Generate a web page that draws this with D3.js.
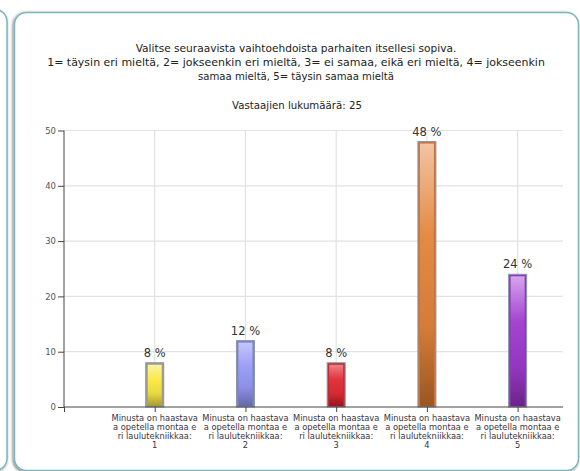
<!DOCTYPE html>
<html>
<head>
<meta charset="utf-8">
<script src="https://cdn.jsdelivr.net/npm/d3@7"></script>
<style>
  html, body { margin: 0; padding: 0; background: #ffffff; }
  svg { display: block; }
  text { font-family: "DejaVu Sans", Verdana, sans-serif; }
</style>
</head>
<body>
<script>
// ---------- data ----------
const titleLines = [
  "Valitse seuraavista vaihtoehdoista parhaiten itsellesi sopiva.",
  "1= täysin eri mieltä, 2= jokseenkin eri mieltä, 3= ei samaa, eikä eri mieltä, 4= jokseenkin",
  "samaa mieltä, 5= täysin samaa mieltä"
];
const subtitle = "Vastaajien lukumäärä: 25";
const categories = [
  "Minusta on haastavaa opetella montaa eri laulutekniikkaa: 1",
  "Minusta on haastavaa opetella montaa eri laulutekniikkaa: 2",
  "Minusta on haastavaa opetella montaa eri laulutekniikkaa: 3",
  "Minusta on haastavaa opetella montaa eri laulutekniikkaa: 4",
  "Minusta on haastavaa opetella montaa eri laulutekniikkaa: 5"
];
const values = [8, 12, 8, 48, 24];
const yTicks = [0, 10, 20, 30, 40, 50];
const barColors = [
  { top: "#f8f2a8", mid: "#fbea48", low: "#e8d840", bot: "#a89a32", stroke: "#9c9c8c" },
  { top: "#c4c6fb", mid: "#9ea2f6", low: "#8c90e6", bot: "#6668a8", stroke: "#7c84c4" },
  { top: "#ec8088", mid: "#e2343c", low: "#d42a32", bot: "#98161e", stroke: "#c02a34" },
  { top: "#f2c4a4", mid: "#e38a44", low: "#d47c38", bot: "#9a5622", stroke: "#c8743c" },
  { top: "#d6a4ec", mid: "#a444d0", low: "#9438c0", bot: "#6c2488", stroke: "#8a3cb8" }
];

// ---------- layout ----------
const W = 580, H = 471;
const svg = d3.select("body").append("svg").attr("width", W).attr("height", H);
const defs = svg.append("defs");

const shadow = defs.append("filter").attr("id", "shadow")
  .attr("x", "-10%").attr("y", "-10%").attr("width", "120%").attr("height", "120%");
shadow.append("feGaussianBlur").attr("in", "SourceAlpha").attr("stdDeviation", 1.6).attr("result", "b");
shadow.append("feOffset").attr("in", "b").attr("dx", -1).attr("dy", 1).attr("result", "o");
shadow.append("feComponentTransfer").attr("in", "o").attr("result", "s")
  .append("feFuncA").attr("type", "linear").attr("slope", 0.55);
const merge = shadow.append("feMerge");
merge.append("feMergeNode").attr("in", "s");
merge.append("feMergeNode").attr("in", "SourceGraphic");

// left partial panel
svg.append("rect")
  .attr("x", -560).attr("y", 9.5).attr("width", 567).attr("height", 461).attr("rx", 12)
  .attr("fill", "#ffffff").attr("stroke", "#7ab7bc").attr("stroke-width", 1.5)
  .attr("filter", "url(#shadow)");
// main panel
svg.append("rect")
  .attr("x", 14.5).attr("y", 12.5).attr("width", 564).attr("height", 458).attr("rx", 12)
  .attr("fill", "#ffffff").attr("stroke", "#7ab7bc").attr("stroke-width", 1.5)
  .attr("filter", "url(#shadow)");

// fit text helper
function fitText(sel, targetWidth, baseSize) {
  sel.attr("font-size", baseSize);
  const w = sel.node().getComputedTextLength();
  if (w > 0) sel.attr("font-size", baseSize * targetWidth / w);
  return sel;
}

// ---------- title ----------
const titleCx = 296;
const titleY = [52, 66, 80];
const titleW = [321, 498, 196];
titleLines.forEach((t, i) => {
  const s = svg.append("text").attr("x", titleCx).attr("y", titleY[i])
    .attr("text-anchor", "middle").attr("fill", "#222").text(t);
  fitText(s, titleW[i], 12);
});
fitText(svg.append("text").attr("x", 297).attr("y", 109)
  .attr("text-anchor", "middle").attr("fill", "#222").text(subtitle), 130, 12);

// ---------- scales ----------
const x0 = 64, x1 = 563, y0 = 407, y1 = 130.5;
const x = d3.scaleLinear().domain([0, categories.length + 0.5]).range([x0, x1]);
const y = d3.scaleLinear().domain([0, 50]).range([y0, y1]);
const barW = 18;

const g = svg.append("g");

// grid
g.selectAll("line.hgrid").data(yTicks.filter(d => d > 0)).join("line")
  .attr("x1", x0).attr("x2", x1).attr("y1", d => y(d)).attr("y2", d => y(d))
  .attr("stroke", "#e2e2e2").attr("stroke-width", 1.2);
g.selectAll("line.vgrid").data(categories).join("line")
  .attr("x1", (d, i) => x(i + 1)).attr("x2", (d, i) => x(i + 1))
  .attr("y1", y1).attr("y2", y0)
  .attr("stroke", "#e2e2e2").attr("stroke-width", 1.2);

// gradients
barColors.forEach((c, i) => {
  const lg = defs.append("linearGradient").attr("id", "bg" + i)
    .attr("x1", 0).attr("y1", 0).attr("x2", 0).attr("y2", 1);
  lg.append("stop").attr("offset", "0%").attr("stop-color", c.top);
  lg.append("stop").attr("offset", "35%").attr("stop-color", c.mid);
  lg.append("stop").attr("offset", "70%").attr("stop-color", c.low);
  lg.append("stop").attr("offset", "100%").attr("stop-color", c.bot);
});

// bars
const bars = g.selectAll("g.bar").data(values).join("g");
bars.append("rect")
  .attr("x", (d, i) => x(i + 1) - barW / 2)
  .attr("y", d => y(d))
  .attr("width", barW)
  .attr("height", d => y0 - y(d))
  .attr("fill", (d, i) => barColors[i].stroke)
  .attr("stroke", "#8a96aa").attr("stroke-width", 1);
bars.append("rect")
  .attr("x", (d, i) => x(i + 1) - barW / 2 + 2)
  .attr("y", d => y(d) + 2)
  .attr("width", barW - 4)
  .attr("height", d => Math.max(0, y0 - y(d) - 3))
  .attr("fill", (d, i) => `url(#bg${i})`);

// value labels
g.selectAll("text.val").data(values).join("text")
  .attr("x", (d, i) => x(i + 1))
  .attr("y", d => y(d) - 6)
  .attr("text-anchor", "middle")
  .attr("font-size", 11.5)
  .attr("fill", "#333")
  .text(d => d + " %");

// y axis
const yAxis = d3.axisLeft(y).tickValues(yTicks).tickSize(6).tickPadding(2);
const ya = svg.append("g").attr("transform", `translate(${x0},0)`).call(yAxis);
ya.select(".domain").attr("stroke", "#444").attr("d", `M0,${y0}V${y1}`);
ya.selectAll(".tick line").attr("stroke", "#444");
ya.selectAll(".tick text").attr("font-size", 8.5).attr("fill", "#555")
  .attr("font-family", "DejaVu Sans, Verdana, sans-serif");

// x axis
const xTickVals = d3.range(0, categories.length + 1);
const xAxis = d3.axisBottom(x).tickValues(xTickVals).tickSize(5).tickFormat("");
const xa = svg.append("g").attr("transform", `translate(0,${y0})`).call(xAxis);
xa.select(".domain").attr("stroke", "#444").attr("d", `M${x0},0H${x1}`);
xa.selectAll(".tick line").attr("stroke", "#444");

// category labels (wrapped every 19 characters)
function chunk(s, n) {
  const out = [];
  for (let i = 0; i < s.length; i += n) out.push(s.slice(i, i + n).trim());
  return out;
}
categories.forEach((c, i) => {
  const t = svg.append("text")
    .attr("x", x(i + 1)).attr("y", 421)
    .attr("text-anchor", "middle").attr("fill", "#3a3340");
  chunk(c, 19).forEach((ln, j) => {
    t.append("tspan").attr("x", x(i + 1)).attr("dy", j === 0 ? 0 : 9).text(ln);
  });
  t.attr("font-size", 8.3);
});
</script>
</body>
</html>
